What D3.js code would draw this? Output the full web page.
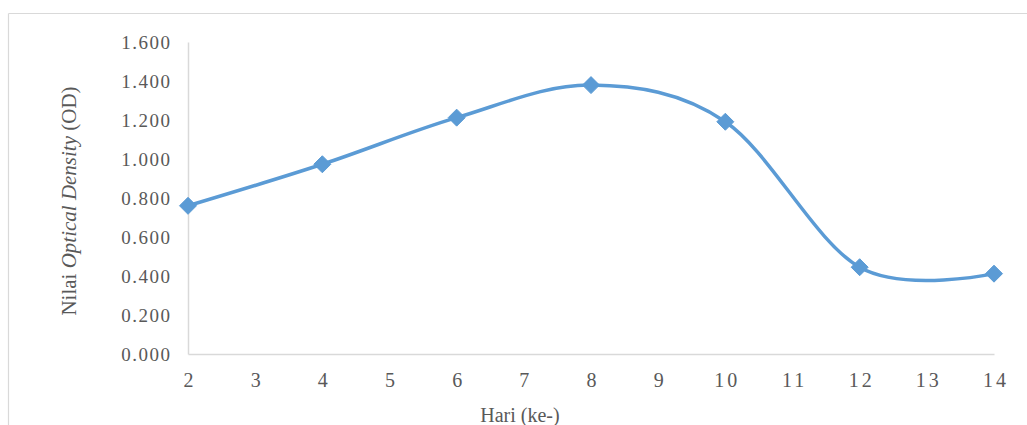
<!DOCTYPE html>
<html>
<head>
<meta charset="utf-8">
<script src="https://cdn.jsdelivr.net/npm/d3@7"></script>
<style>
  html, body { margin: 0; padding: 0; background: #fff; }
  svg { display: block; }
</style>
</head>
<body>
<svg id="chart" width="1027" height="425"></svg>
<script>
// Data
const days = [2, 4, 6, 8, 10, 12, 14];
const odValues = [0.760, 0.973, 1.212, 1.379, 1.191, 0.445, 0.412];
const xTicks = [2, 3, 4, 5, 6, 7, 8, 9, 10, 11, 12, 13, 14];
const yTicks = [0, 0.2, 0.4, 0.6, 0.8, 1.0, 1.2, 1.4, 1.6];
const xTitle = "Hari (ke-)";
const yTitleParts = [
  { text: "Nilai ", italic: false },
  { text: "Optical Density", italic: true },
  { text: " (OD)", italic: false }
];

const W = 1027, H = 425;
const plot = { left: 188, right: 994, top: 42, bottom: 354 };
const FONT = "'Liberation Serif', 'Times New Roman', Times, serif";
const TEXT = "#595959";
const AXIS = "#d9d9d9";
const LINE = "#5b9bd5";

const svg = d3.select("#chart");

// chart area frame (top & left visible)
svg.append("line").attr("x1", 8.5).attr("x2", W).attr("y1", 13.5).attr("y2", 13.5)
  .attr("stroke", AXIS).attr("stroke-width", 1.2);
svg.append("line").attr("x1", 8.5).attr("x2", 8.5).attr("y1", 13.5).attr("y2", H)
  .attr("stroke", AXIS).attr("stroke-width", 1.2);

const x = d3.scaleLinear().domain([2, 14]).range([plot.left, plot.right]);
const y = d3.scaleLinear().domain([0, 1.6]).range([plot.bottom, plot.top]);

// Y axis
const yAxis = svg.append("g")
  .attr("transform", `translate(${plot.left},0)`)
  .call(d3.axisLeft(y).tickValues(yTicks).tickSize(0).tickPadding(18)
    .tickFormat(d => d3.format(".3f")(d)));
yAxis.select(".domain").attr("stroke", AXIS).attr("stroke-width", 1.5);
yAxis.selectAll("text")
  .attr("font-family", FONT).attr("font-size", 19).attr("fill", TEXT)
  .attr("letter-spacing", "1.5px").attr("dx", "1.5");

// X axis
const xAxis = svg.append("g")
  .attr("transform", `translate(0,${plot.bottom})`)
  .call(d3.axisBottom(x).tickValues(xTicks).tickSize(0).tickPadding(19)
    .tickFormat(d3.format("d")));
xAxis.select(".domain").attr("stroke", AXIS).attr("stroke-width", 1.5);
xAxis.selectAll("text")
  .attr("font-family", FONT).attr("font-size", 20).attr("fill", TEXT)
  .attr("letter-spacing", "3px").attr("dx", "1.5");

// Axis titles
svg.append("text")
  .attr("x", 520).attr("y", 422)
  .attr("text-anchor", "middle")
  .attr("font-family", FONT).attr("font-size", 20).attr("fill", TEXT)
  .text(xTitle);

const yt = svg.append("text")
  .attr("transform", "translate(76,201) rotate(-90)")
  .attr("text-anchor", "middle")
  .attr("font-family", FONT).attr("font-size", 21).attr("fill", TEXT);
yTitleParts.forEach(p => {
  yt.append("tspan").attr("font-style", p.italic ? "italic" : "normal").text(p.text);
});

// Smoothed line
const pts = days.map((d, i) => [d, odValues[i]]);
const lineGen = d3.line()
  .x(d => x(d[0])).y(d => y(d[1]))
  .curve(d3.curveCardinal.tension(0));
svg.append("path")
  .datum(pts)
  .attr("d", lineGen)
  .attr("fill", "none")
  .attr("stroke", LINE)
  .attr("stroke-width", 3.5)
  .attr("stroke-linecap", "round")
  .attr("stroke-linejoin", "round");

// Diamond markers
const r = 8.5;
svg.append("g").selectAll("path")
  .data(pts)
  .join("path")
  .attr("transform", d => `translate(${x(d[0])},${y(d[1])})`)
  .attr("d", `M0,${-r}L${r},0L0,${r}L${-r},0Z`)
  .attr("fill", LINE)
  .attr("stroke", LINE)
  .attr("stroke-width", 1);
</script>
</body>
</html>
